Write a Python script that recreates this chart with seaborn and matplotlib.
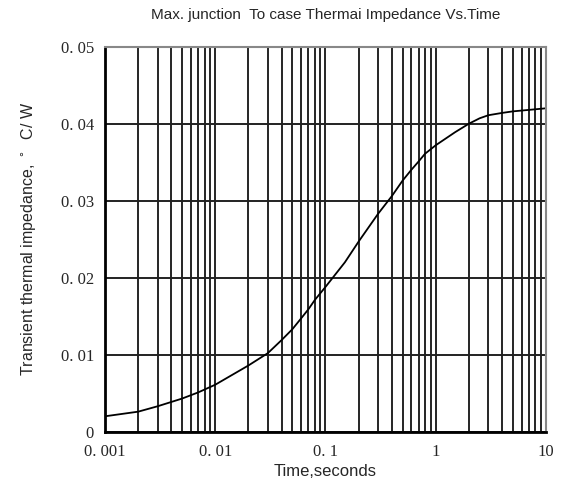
import numpy as np
import pandas as pd
import matplotlib
matplotlib.use("Agg")
import matplotlib.pyplot as plt
import matplotlib.ticker as mticker
import seaborn as sns

# Curve values (time in seconds, impedance in C/W)
time_s = [0.001, 0.002, 0.003, 0.005, 0.007, 0.01, 0.02, 0.03, 0.04, 0.05,
          0.06, 0.07, 0.08, 0.09, 0.1, 0.15, 0.2, 0.3, 0.4, 0.5, 0.6, 0.7,
          0.8, 1, 1.5, 2, 2.5, 3, 4, 5, 10]
impedance = [0.0020, 0.0026, 0.0033, 0.0043, 0.0051, 0.0061, 0.0086, 0.0102,
             0.0119, 0.0133, 0.0147, 0.0159, 0.0171, 0.0180, 0.0188, 0.0220,
             0.0247, 0.0283, 0.0306, 0.0326, 0.0340, 0.0351, 0.0361, 0.0372,
             0.0389, 0.0400, 0.0407, 0.0411, 0.0414, 0.0416, 0.0420]

x_ticks = [0.001, 0.01, 0.1, 1, 10]
x_tick_labels = ["0. 001", "0. 01", "0. 1", "1", "10"]
y_ticks = [0, 0.01, 0.02, 0.03, 0.04, 0.05]
y_tick_labels = ["0", "0. 01", "0. 02", "0. 03", "0. 04", "0. 05"]

df = pd.DataFrame({"time": time_s, "zth": impedance})

sns.set_style("white")
sans = ["Liberation Sans Narrow", "Liberation Sans", "DejaVu Sans"]
serif = ["Liberation Serif", "DejaVu Serif"]

fig = plt.figure(figsize=(5.62, 4.90), dpi=100)
ax = fig.add_axes([0.1868, 0.119, 0.9715 - 0.1868, 0.9047 - 0.119])

sns.lineplot(data=df, x="time", y="zth", ax=ax, color="black", linewidth=1.3)

ax.set_xscale("log")
ax.set_xlim(0.001, 10)
ax.set_ylim(0, 0.05)

ax.xaxis.set_major_locator(mticker.FixedLocator(x_ticks))
ax.xaxis.set_minor_locator(mticker.LogLocator(base=10, subs=np.arange(2, 10)))
ax.xaxis.set_minor_formatter(mticker.NullFormatter())
ax.set_xticklabels(x_tick_labels, family=serif, fontsize=12)
ax.set_yticks(y_ticks)
ax.set_yticklabels(y_tick_labels, family=serif, fontsize=12)
ax.tick_params(axis="both", which="both", length=0)
ax.tick_params(axis="x", pad=9)
ax.tick_params(axis="y", pad=8)

# dense log grid like the datasheet
ax.grid(True, axis="x", which="both", color="black", linewidth=1.2)
ax.grid(True, axis="y", which="major", color="#222222", linewidth=1.4)
ax.set_axisbelow(True)

for side in ["left", "bottom"]:
    ax.spines[side].set_color("black")
    ax.spines[side].set_linewidth(2)
for side in ["top", "right"]:
    ax.spines[side].set_color("#888888")
    ax.spines[side].set_linewidth(1.5)

ax.set_title("Max. junction  To case Thermai Impedance Vs.Time",
             family=sans, fontsize=11, pad=20)
ax.set_xlabel("Time,seconds", family=sans, fontsize=12, labelpad=3)
ax.set_ylabel("Transient thermal impedance, $^\\circ$  C/ W",
              family=sans, fontsize=11.5, labelpad=16)

fig.savefig("out.png", dpi=100)
